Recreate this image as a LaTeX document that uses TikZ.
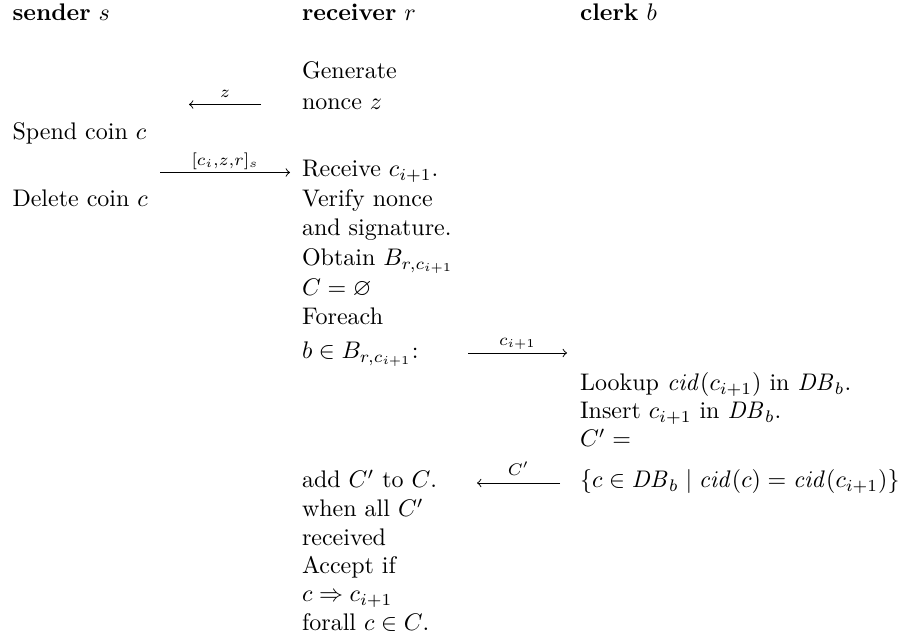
\documentclass[tikz,border=0pt]{standalone}
\usepackage{amsmath,amssymb}
\begin{document}
\begin{tikzpicture}[x=0.41667pt,y=-0.41667pt,
  txt/.style={anchor=base west,inner sep=0pt,outer sep=0pt},
  msg/.style={->,line width=0.4pt},
  lbl/.style={anchor=base,inner sep=0pt,outer sep=0pt,yshift=3.1pt}]
\useasboundingbox (0,0) rectangle (909,642);

% column headers
\node[txt] (hs) at (12.5,21) {\textbf{sender} $s$};
\node[txt] (hr) at (302,21) {\textbf{receiver} $r$};
\node[txt] (hb) at (580,21) {\textbf{clerk} $b$};

% sender steps
\node[txt] (s1) at (12.5,140) {Spend coin $c$};
\node[txt] (s2) at (12.5,207) {Delete coin $c$};

% receiver steps
\node[txt] (r1)  at (302,79)  {Generate};
\node[txt] (r2)  at (302,110) {nonce $z$};
\node[txt] (r3)  at (302,177) {Receive $c_{i+1}$.};
\node[txt] (r4)  at (302,207) {Verify nonce};
\node[txt] (r5)  at (302,236) {and signature.};
\node[txt] (r6)  at (302,266) {Obtain $B_{r,c_{i+1}}$};
\node[txt] (r7)  at (302,296) {$C=\varnothing$};
\node[txt] (r8)  at (302,325) {Foreach};
\node[txt] (r9)  at (302,359) {$b\in B_{r,c_{i+1}}$:};
\node[txt] (r10) at (302,488) {add $C'$ to $C$.};
\node[txt] (r11) at (302,517) {when all $C'$};
\node[txt] (r12) at (302,546) {received};
\node[txt] (r13) at (302,574) {Accept if};
\node[txt] (r14) at (302,602) {$c\Rightarrow c_{i+1}$};
\node[txt] (r15) at (302,631) {forall $c\in C$.};

% clerk steps
\node[txt] (b1) at (580,391) {Lookup $\mathit{cid}(c_{i+1})$ in $\mathit{DB}_b$.};
\node[txt] (b2) at (580,419) {Insert $c_{i+1}$ in $\mathit{DB}_b$.};
\node[txt] (b3) at (580,447) {$C'=$};
\node[txt] (b4) at (580,488) {$\{c\in \mathit{DB}_b \mid \mathit{cid}(c)=\mathit{cid}(c_{i+1})\}$};

% message ends
\coordinate (zR) at (261,104.5);
\coordinate (zL) at (189,104.5);
\coordinate (cL) at (160,172.5);
\coordinate (cR) at (290,172.5);
\coordinate (qL) at (468,353);
\coordinate (qR) at (567,353);
\coordinate (pR) at (560,483);
\coordinate (pL) at (477,483);

% messages, labels set in script style
\draw[msg] (zR) -- (zL) node[midway,lbl] (lz) {$\scriptstyle z$};
\draw[msg] (cL) -- (cR) node[midway,lbl] (lc) {$\scriptstyle [c_i,z,r]_s$};
\draw[msg] (qL) -- (qR) node[midway,lbl] (lq) {$\scriptstyle c_{i+1}$};
\draw[msg] (pR) -- (pL) node[midway,lbl] (lp) {$\scriptstyle C'$};
\end{tikzpicture}
\end{document}
